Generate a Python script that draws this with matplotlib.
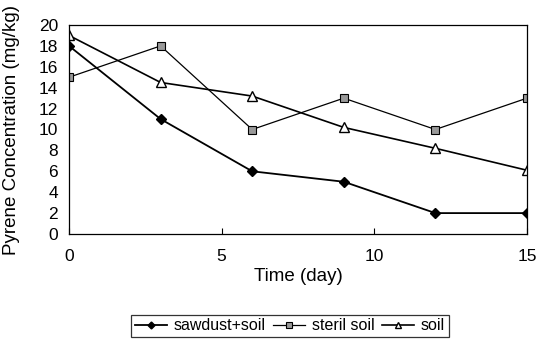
import matplotlib
matplotlib.use("Agg")
import matplotlib.pyplot as plt

plt.rcParams['font.family'] = ['Liberation Sans', 'DejaVu Sans']

days = [0, 3, 6, 9, 12, 15]
sawdust_soil = [18, 11, 6, 5, 2, 2]
steril_soil = [15, 18, 10, 13, 10, 13]
soil = [19, 14.5, 13.2, 10.2, 8.2, 6.1]
x_ticks = [0, 5, 10, 15]
y_ticks = [0, 2, 4, 6, 8, 10, 12, 14, 16, 18, 20]

fig = plt.figure(figsize=(5.36, 3.41), dpi=100)
ax = fig.add_axes([69/536, 1 - 234/341, (527-69)/536, (234-25)/341])

ax.plot(days, sawdust_soil, color='black', lw=1.3, marker='D', ms=5,
        mfc='black', mec='black', label='sawdust+soil')
ax.plot(days, steril_soil, color='black', lw=0.9, marker='s', ms=6,
        mfc='#999999', mec='black', mew=0.8, label='steril soil')
ax.plot(days, soil, color='black', lw=1.2, marker='^', ms=7,
        mfc='white', mec='black', mew=1.0, label='soil')

ax.set_xlim(0, 15)
ax.set_ylim(0, 20)
ax.set_xticks(x_ticks)
ax.set_yticks(y_ticks)
ax.tick_params(axis='x', direction='in', length=4, labelsize=12.5, pad=11)
ax.tick_params(axis='y', direction='out', length=0, labelsize=12.5, pad=8)
ax.set_xlabel('Time (day)', fontsize=13.5, labelpad=3)
ax.set_ylabel('Pyrene Concentration (mg/kg)', fontsize=13.5)
ax.yaxis.set_label_coords(-49/458, 104/209)
for s in ax.spines.values():
    s.set_linewidth(0.9)

leg = fig.legend(loc='center', bbox_to_anchor=(290/536, 1 - 326/341), ncol=3,
                 frameon=True, fancybox=False, edgecolor='black', fontsize=11.5,
                 handlelength=2.0, columnspacing=0.5, handletextpad=0.4,
                 borderpad=0.25, markerscale=0.7)
leg.get_frame().set_linewidth(0.9)

fig.savefig('out.png', dpi=100)
